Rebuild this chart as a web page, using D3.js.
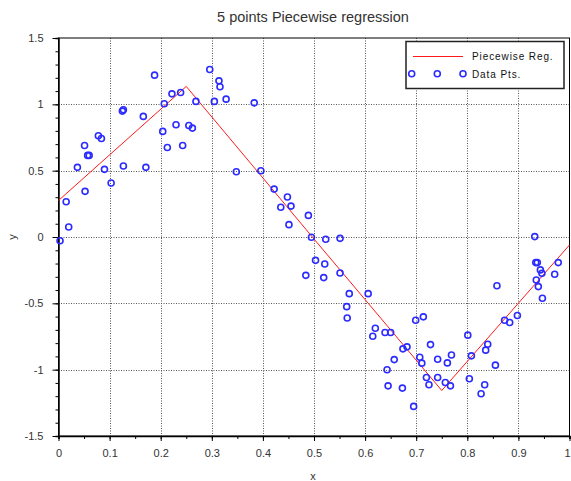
<!DOCTYPE html>
<html>
<head>
<meta charset="utf-8">
<script src="https://cdn.jsdelivr.net/npm/d3@7"></script>
<style>
  body { margin: 0; background: #fff; }
  svg { display: block; font-family: "Liberation Sans", Arial, sans-serif; }
</style>
</head>
<body>
<svg width="571" height="481"></svg>
<script>
// sample points
const xData = [0.003, 0.015, 0.020, 0.037, 0.051, 0.052, 0.057, 0.060, 0.078, 0.084,
  0.090, 0.103, 0.125, 0.127, 0.127, 0.166, 0.171, 0.188, 0.204, 0.207,
  0.213, 0.222, 0.230, 0.239, 0.243, 0.255, 0.262, 0.269, 0.296, 0.305,
  0.314, 0.316, 0.328, 0.348, 0.383, 0.396, 0.422, 0.435, 0.448, 0.455,
  0.451, 0.489, 0.495, 0.523, 0.551, 0.484, 0.503, 0.521, 0.519, 0.551,
  0.569, 0.564, 0.565, 0.606, 0.620, 0.615, 0.639, 0.650, 0.657, 0.643,
  0.645, 0.673, 0.674, 0.682, 0.695, 0.699, 0.714, 0.707, 0.711, 0.720,
  0.725, 0.728, 0.742, 0.742, 0.757, 0.761, 0.769, 0.767, 0.801, 0.804,
  0.808, 0.827, 0.834, 0.836, 0.840, 0.855, 0.858, 0.873, 0.883, 0.898,
  0.932, 0.934, 0.937, 0.943, 0.946, 0.935, 0.939, 0.947, 0.971, 0.978]
const yData = [-0.028, 0.266, 0.075, 0.525, 0.690, 0.344, 0.615, 0.615, 0.763, 0.743,
  0.510, 0.407, 0.949, 0.959, 0.535, 0.909, 0.525, 1.220, 0.796, 1.004,
  0.675, 1.079, 0.846, 1.089, 0.690, 0.841, 0.821, 1.022, 1.263, 1.022,
  1.177, 1.132, 1.039, 0.492, 1.011, 0.499, 0.361, 0.224, 0.301, 0.233,
  0.093, 0.163, -0.002, -0.017, -0.010, -0.289, -0.176, -0.203, -0.306, -0.271,
  -0.427, -0.525, -0.610, -0.427, -0.688, -0.748, -0.720, -0.720, -0.924, -1.001,
  -1.122, -1.139, -0.843, -0.828, -1.277, -0.628, -0.602, -0.906, -0.951, -1.059,
  -1.114, -0.811, -0.921, -1.059, -1.097, -0.949, -0.889, -1.122, -0.740, -1.069,
  -0.896, -1.182, -1.114, -0.853, -0.808, -0.966, -0.367, -0.628, -0.645, -0.592,
  0.003, -0.193, -0.193, -0.248, -0.274, -0.324, -0.374, -0.462, -0.281, -0.193]

// the 5 break points of the fit
const regX = [0, 0.25, 0.5, 0.75, 1]
const regY = [0.275, 1.135, -0.015, -1.157, -0.06]

const xTicks = [0, 0.1, 0.2, 0.3, 0.4, 0.5, 0.6, 0.7, 0.8, 0.9, 1]
const xTickLabels = ["0", "0.1", "0.2", "0.3", "0.4", "0.5", "0.6", "0.7", "0.8", "0.9", "1"]
const yTicks = [-1.5, -1, -0.5, 0, 0.5, 1, 1.5]
const yTickLabels = ["-1.5", "-1", "-0.5", "0", "0.5", "1", "1.5"]

const svg = d3.select("svg")
const plotLeft = 58.5, plotRight = 569.5, plotTop = 38, plotBottom = 436

const x = d3.scaleLinear().domain([0, 1]).range([plotLeft, plotRight])
const y = d3.scaleLinear().domain([-1.5, 1.5]).range([plotBottom, plotTop])

const xMinor = d3.range(0, 1.001, 0.05).map(d => +d.toFixed(2))
const yMinor = d3.range(-1.5, 1.501, 0.1).map(d => +d.toFixed(1))

// grid
const grid = svg.append("g")
  .attr("stroke", "#555")
  .attr("stroke-width", 1)
  .attr("stroke-dasharray", "1,1.5")
grid.selectAll("line.gx").data(xTicks.slice(1, -1)).enter().append("line")
  .attr("x1", d => Math.round(x(d)) + 0.5).attr("x2", d => Math.round(x(d)) + 0.5)
  .attr("y1", plotTop).attr("y2", plotBottom)
grid.selectAll("line.gy").data(yTicks.slice(1, -1)).enter().append("line")
  .attr("x1", plotLeft).attr("x2", plotRight)
  .attr("y1", d => Math.round(y(d)) + 0.5).attr("y2", d => Math.round(y(d)) + 0.5)

// frame
svg.append("rect")
  .attr("x", plotLeft).attr("y", plotTop)
  .attr("width", plotRight - plotLeft).attr("height", plotBottom - plotTop)
  .attr("fill", "none").attr("stroke", "#000").attr("stroke-width", 1)

// axes
svg.append("g")
  .attr("transform", `translate(0,${plotBottom})`)
  .call(d3.axisBottom(x).tickValues(xMinor).tickSize(3).tickFormat(""))
  .call(g => g.select(".domain").attr("stroke-width", 1.5))
svg.append("g")
  .attr("transform", `translate(0,${plotBottom})`)
  .call(d3.axisBottom(x).tickValues(xTicks).tickSize(5).tickPadding(8)
    .tickFormat((d, i) => xTickLabels[i]))
  .call(g => g.select(".domain").remove())
  .call(g => g.selectAll("text").attr("font-size", 11).attr("fill", "#333")
    .attr("font-family", "Liberation Sans, Arial, sans-serif"))
  // last label sits right at the window edge
  .call(g => g.selectAll(".tick:last-of-type text").attr("dx", -2.5))

svg.append("g")
  .attr("transform", `translate(${plotLeft},0)`)
  .call(d3.axisLeft(y).tickValues(yMinor).tickSize(3).tickFormat(""))
  .call(g => g.select(".domain").attr("stroke-width", 1.5))
svg.append("g")
  .attr("transform", `translate(${plotLeft},0)`)
  .call(d3.axisLeft(y).tickValues(yTicks).tickSize(6).tickPadding(9)
    .tickFormat((d, i) => yTickLabels[i]))
  .call(g => g.select(".domain").remove())
  .call(g => g.selectAll("text").attr("font-size", 11).attr("fill", "#333")
    .attr("font-family", "Liberation Sans, Arial, sans-serif"))

// regression line
const line = d3.line().x((d, i) => x(regX[i])).y(d => y(d))
svg.append("path")
  .datum(regY)
  .attr("d", line)
  .attr("fill", "none")
  .attr("stroke", "#ff1a1a")
  .attr("stroke-width", 1)

// data points
svg.append("g").selectAll("circle")
  .data(xData.map((d, i) => [d, yData[i]]))
  .enter().append("circle")
  .attr("cx", d => x(d[0]))
  .attr("cy", d => y(d[1]))
  .attr("r", 3)
  .attr("fill", "none")
  .attr("stroke", "#2b2bff")
  .attr("stroke-width", 1.6)

// title and labels
svg.append("text")
  .attr("x", 313).attr("y", 22)
  .attr("text-anchor", "middle")
  .attr("font-size", 14.5)
  .attr("fill", "#333")
  .text("5 points Piecewise regression")
svg.append("text")
  .attr("x", 313).attr("y", 480)
  .attr("text-anchor", "middle")
  .attr("font-size", 11)
  .attr("fill", "#333")
  .text("x")
svg.append("text")
  .attr("transform", "translate(16,237) rotate(-90)")
  .attr("text-anchor", "middle")
  .attr("font-size", 11)
  .attr("fill", "#333")
  .text("y")

// legend
const legend = svg.append("g")
legend.append("rect")
  .attr("x", 406).attr("y", 41.5)
  .attr("width", 158).attr("height", 47)
  .attr("fill", "#fff").attr("stroke", "#222").attr("stroke-width", 1.5)
legend.append("line")
  .attr("x1", 413).attr("x2", 463).attr("y1", 56.5).attr("y2", 56.5)
  .attr("stroke", "#ff1a1a").attr("stroke-width", 1)
legend.selectAll("circle").data([411.7, 437.3, 463]).enter().append("circle")
  .attr("cx", d => d).attr("cy", 73.7).attr("r", 3)
  .attr("fill", "none").attr("stroke", "#2b2bff").attr("stroke-width", 1.6)
legend.selectAll("text").data(["Piecewise Reg.", "Data Pts."]).enter().append("text")
  .attr("x", 472)
  .attr("y", (d, i) => i ? 77.5 : 60)
  .attr("font-size", 10)
  .attr("letter-spacing", 0.9)
  .attr("fill", "#111")
  .text(d => d)
</script>
</body>
</html>
